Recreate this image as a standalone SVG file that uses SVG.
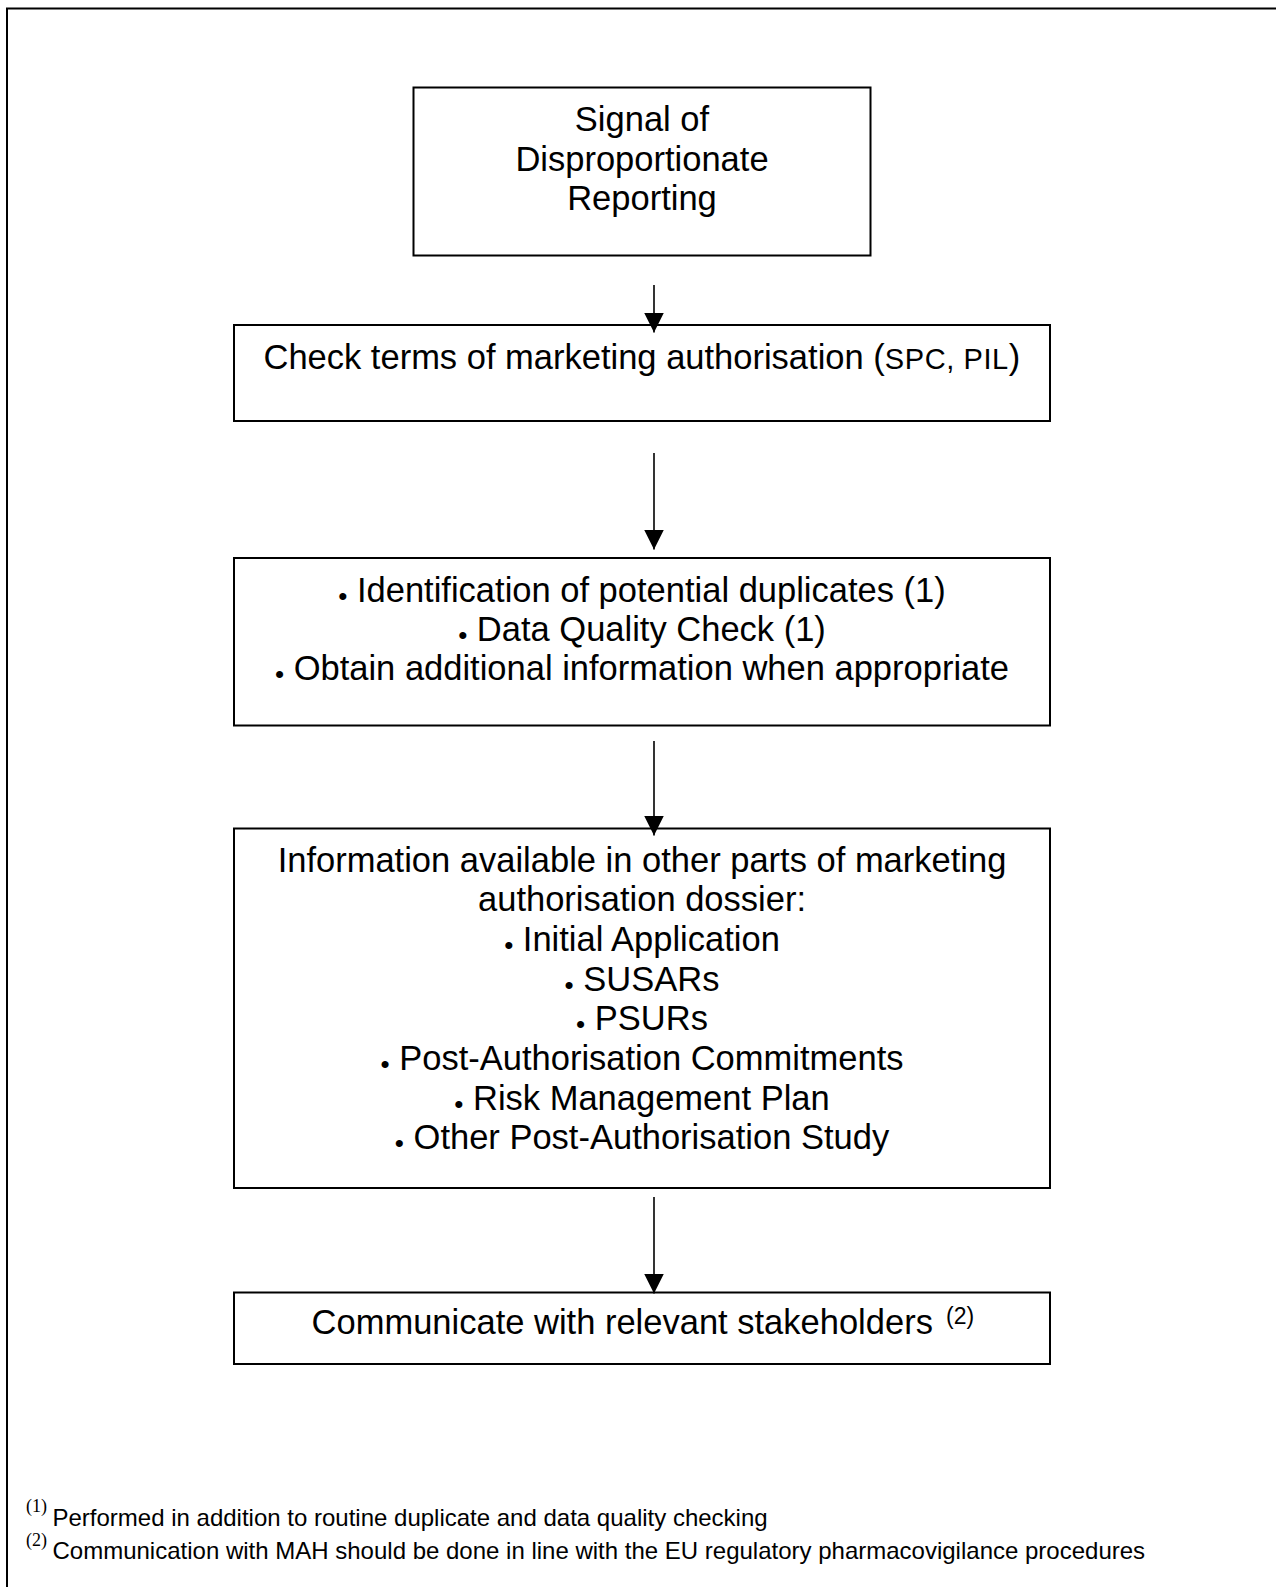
<svg xmlns="http://www.w3.org/2000/svg" width="1276" height="1587" viewBox="0 0 1276 1587">
<style>
text{font-family:"Liberation Sans",Arial,sans-serif;fill:#000}
.t{font-size:34.5px}
.c{text-anchor:middle}
.b{font-size:26px}
.sm{font-size:29px}
.sup{font-size:23px}
.fn{font-size:24px}
.fs{font-family:"Liberation Serif","Times New Roman",serif;font-size:18px}
.box{fill:#fff;stroke:#000;stroke-width:2}
.ln{stroke:#000;stroke-width:1.6;fill:none}
</style>
<defs>
<marker id="ah" markerUnits="userSpaceOnUse" markerWidth="20" markerHeight="20" viewBox="0 0 20 20" refX="20" refY="10" orient="auto">
<path d="M0,0 L20,10 L0,20 Z" fill="#000"/>
</marker>
</defs>
<rect width="1276" height="1587" fill="#fff"/>
<path d="M7,1587 V8.5 H1276" fill="none" stroke="#000" stroke-width="2"/>

<g id="n1">
<rect class="box" x="413.5" y="87.5" width="457" height="168"/>
<text class="t c" x="642" y="131">Signal of</text>
<text class="t c" x="642" y="170.7">Disproportionate</text>
<text class="t c" x="642" y="210.4">Reporting</text>
</g>

<g id="n2">
<rect class="box" x="234" y="325" width="816" height="96"/>
<text class="t" x="263.5" y="368.8">Check terms of marketing authorisation (<tspan class="sm" letter-spacing="0.6">SPC, PIL</tspan>)</text>
</g>

<g id="n3">
<rect class="box" x="234" y="558" width="816" height="167.5"/>
<text class="t c" x="642" y="601.5"><tspan class="b" dy="3">•</tspan><tspan dy="-3"> Identification of potential duplicates (1)</tspan></text>
<text class="t c" x="642" y="640.8"><tspan class="b" dy="3">•</tspan><tspan dy="-3"> Data Quality Check (1)</tspan></text>
<text class="t c" x="642" y="680"><tspan class="b" dy="3">•</tspan><tspan dy="-3"> Obtain additional information when appropriate</tspan></text>
</g>

<g id="n4">
<rect class="box" x="234" y="828.5" width="816" height="359.5"/>
<text class="t c" x="642" y="871.5">Information available in other parts of marketing</text>
<text class="t c" x="642" y="911.2">authorisation dossier:</text>
<text class="t c" x="642" y="950.9"><tspan class="b" dy="3">•</tspan><tspan dy="-3"> Initial Application</tspan></text>
<text class="t c" x="642" y="990.6"><tspan class="b" dy="3">•</tspan><tspan dy="-3"> SUSARs</tspan></text>
<text class="t c" x="642" y="1030.3"><tspan class="b" dy="3">•</tspan><tspan dy="-3"> PSURs</tspan></text>
<text class="t c" x="642" y="1070"><tspan class="b" dy="3">•</tspan><tspan dy="-3"> Post-Authorisation Commitments</tspan></text>
<text class="t c" x="642" y="1109.7"><tspan class="b" dy="3">•</tspan><tspan dy="-3"> Risk Management Plan</tspan></text>
<text class="t c" x="642" y="1149.4"><tspan class="b" dy="3">•</tspan><tspan dy="-3"> Other Post-Authorisation Study</tspan></text>
</g>

<g id="n5">
<rect class="box" x="234" y="1292.5" width="816" height="71.5"/>
<text class="t" x="311.6" y="1334">Communicate with relevant stakeholders <tspan class="sup" x="946" y="1324">(2)</tspan></text>
</g>

<g id="connectors">
<line class="ln" x1="654" y1="285" x2="654" y2="332.5" marker-end="url(#ah)"/>
<line class="ln" x1="654" y1="453" x2="654" y2="549.5" marker-end="url(#ah)"/>
<line class="ln" x1="654" y1="741" x2="654" y2="835.5" marker-end="url(#ah)"/>
<line class="ln" x1="654" y1="1197" x2="654" y2="1293.5" marker-end="url(#ah)"/>
</g>

<g id="footnotes">
<text x="26" y="1512"><tspan class="fs">(1)</tspan><tspan class="fn" x="52.5" y="1525.5">Performed in addition to routine duplicate and data quality checking</tspan></text>
<text x="26" y="1546"><tspan class="fs">(2)</tspan><tspan class="fn" x="52.5" y="1559">Communication with MAH should be done in line with the EU regulatory pharmacovigilance procedures</tspan></text>
</g>
</svg>
